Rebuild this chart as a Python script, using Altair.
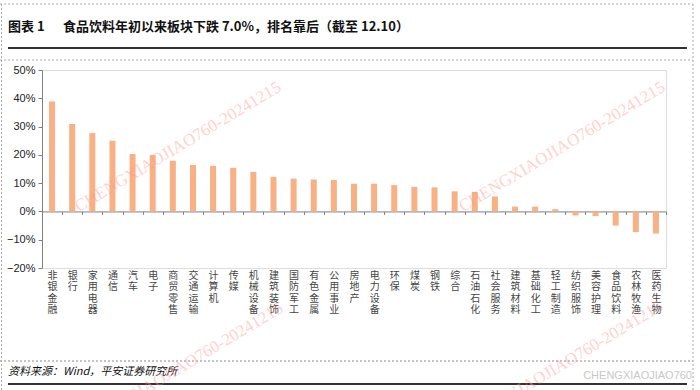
import altair as alt
import pandas as pd

categories = ["非银金融", "银行", "家用电器", "通信", "汽车", "电子", "商贸零售", "交通运输",
              "计算机", "传媒", "机械设备", "建筑装饰", "国防军工", "有色金属", "公用事业",
              "房地产", "电力设备", "环保", "煤炭", "钢铁", "综合", "石油石化", "社会服务",
              "建筑材料", "基础化工", "轻工制造", "纺织服饰", "美容护理", "食品饮料",
              "农林牧渔", "医药生物"]
returns = [38.9, 30.9, 27.7, 25.0, 20.3, 20.0, 17.9, 16.4, 16.1, 15.4, 14.0, 12.2, 11.6,
           11.3, 11.1, 9.8, 9.8, 9.3, 8.7, 8.5, 7.1, 6.9, 5.3, 1.7, 1.7, 0.8, -1.4, -1.6,
           -5.0, -7.3, -7.8]
y_ticks = [-20, -10, 0, 10, 20, 30, 40, 50]

title_left = "图表 1"
title_main = "食品饮料年初以来板块下跌 7.0%，排名靠后（截至 12.10）"
source_text = "资料来源：Wind，平安证券研究所"
watermark = "CHENGXIAOJIAO760-20241215"
corner_mark = "CHENGXIAOJIAO760"

df = pd.DataFrame({"cat": categories, "val": [v / 100 for v in returns]})

L, T = 42, 70          # plot origin in the page
W, H = 624, 198

def ax(v):
    return v - L

def ay(v):
    return v - T

zero_from_bottom = H * 20 / 70

bars = alt.Chart(df).mark_bar(size=6, color="#F8B084").encode(
    x=alt.X("cat:N", sort=categories, title=None,
            scale=alt.Scale(paddingInner=0, paddingOuter=0),
            axis=alt.Axis(orient="bottom", offset=-zero_from_bottom,
                          domainColor="#808080", domainWidth=1,
                          tickBand="extent", tickSize=3, tickColor="#808080",
                          labelAngle=0, labelFont="Noto Sans CJK SC", labelFontSize=10,
                          labelColor="#444444", labelPadding=56, labelBaseline="top",
                          labelLineHeight=11.5, labelExpr="split(datum.label, '')")),
    y=alt.Y("val:Q", title=None,
            scale=alt.Scale(domain=[-0.2, 0.5], nice=False, zero=False),
            axis=alt.Axis(values=[v / 100 for v in y_ticks], format=".0%", grid=False,
                          domainColor="#808080", tickColor="#808080", tickSize=4,
                          labelFont="Liberation Sans", labelFontSize=11,
                          labelColor="#222222", labelPadding=3)),
)

one = pd.DataFrame({"a": [0]})

def text(t, x, y, **kw):
    return alt.Chart(one).mark_text(**kw).encode(
        x=alt.value(x), y=alt.value(y), text=alt.value(t))

def hline(x1, x2, y, **kw):
    return alt.Chart(one).mark_rule(**kw).encode(
        x=alt.value(x1), x2=alt.value(x2), y=alt.value(y))

def vline(x, y1, y2, **kw):
    return alt.Chart(one).mark_rule(**kw).encode(
        x=alt.value(x), y=alt.value(y1), y2=alt.value(y2))

deco = [
    text(title_left, ax(8), ay(27), align="left", baseline="middle",
         font="Noto Sans CJK SC", fontSize=13, fontWeight="bold", color="#111111"),
    text(title_main, ax(63), ay(27), align="left", baseline="middle",
         font="Noto Sans CJK SC", fontSize=13, fontWeight="bold", color="#111111"),
    hline(ax(8), ax(687), ay(48), color="#333333", strokeWidth=2),
    hline(ax(0), ax(693), ay(4), color="#aaaaaa", strokeDash=[2, 2], strokeWidth=1),
    hline(ax(0), ax(693), ay(60), color="#aaaaaa", strokeDash=[2, 2], strokeWidth=1),
    hline(ax(0), ax(693), ay(361), color="#888888", strokeDash=[2, 2], strokeWidth=1),
    vline(ax(1.5), ay(4), ay(390), color="#aaaaaa", strokeDash=[2, 2], strokeWidth=1),
    vline(ax(693), ay(4), ay(390), color="#aaaaaa", strokeDash=[2, 2], strokeWidth=1),
    text(source_text, ax(8), ay(372), align="left", baseline="middle",
         font="Noto Sans CJK SC", fontSize=11, fontStyle="italic", color="#111111"),
    hline(ax(8), ax(687), ay(384), color="#333333", strokeWidth=2),
    text(corner_mark, ax(692), ay(376), align="right", baseline="middle",
         font="Liberation Sans", fontSize=11, color="#c8c8c8"),
]

for cx, cy in [(178, 147), (562, 147), (180, 368), (560, 366)]:
    deco.append(text(watermark, ax(cx), ay(cy), align="center", baseline="middle",
                     font="Liberation Serif", fontSize=17, angle=329,
                     color="#ff9999", opacity=0.45))

chart = alt.layer(bars, *deco).properties(
    width=W, height=H,
    padding={"left": L, "top": T, "right": 700 - L - W, "bottom": 390 - T - H},
    autosize=alt.AutoSizeParams(type="none"),
).configure_view(stroke=None, clip=False).configure(background="white")

chart.save("out.html", embed_options={"renderer": "svg", "actions": False})
